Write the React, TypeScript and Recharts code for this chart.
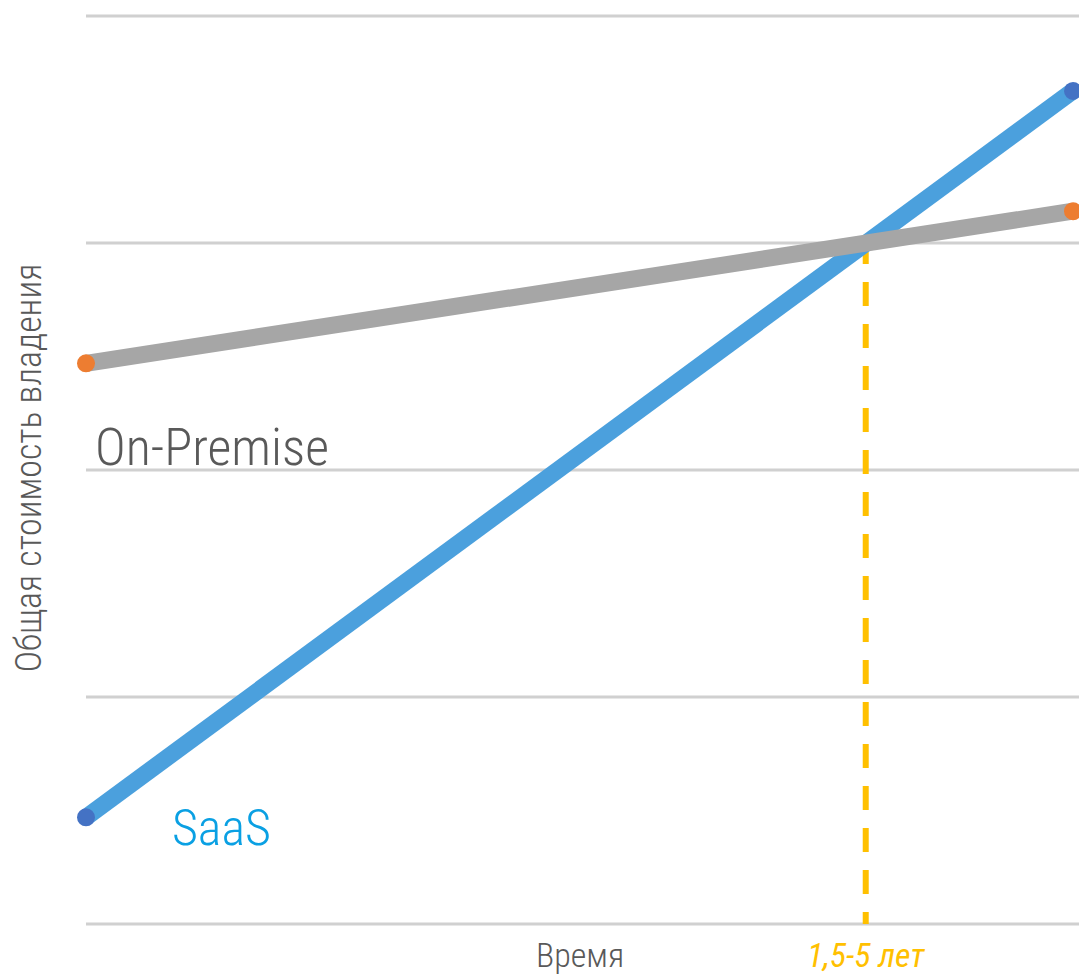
import React from "react";
import { LineChart, Line, XAxis, YAxis, CartesianGrid, ReferenceLine } from "recharts";

// time axis: start and end of the period (relative)
const timePoints = [0, 1];
const saasCost = [0.47, 3.67];
const onPremiseCost = [2.47, 3.14];
const yTicks = [0, 1, 2, 3, 4];

// break-even point
const breakEvenX = 0.79;
const breakEvenY = 3.013;

const yTitle = "Общая стоимость владения";
const xTitle = "Время";
const breakEvenLabel = "1,5-5 лет";

const data = timePoints.map((t, i) => ({
    t,
    saas: saasCost[i],
    onPremise: onPremiseCost[i],
}));

const font = "'Roboto Condensed', 'Liberation Sans Narrow', 'Arial Narrow', Roboto, sans-serif";

export default function App() {
    return (
        <div style={{ position: "absolute", left: 0, top: 0 }}>
            <LineChart
                width={1079}
                height={977}
                data={data}
                margin={{ top: 16, right: 0, bottom: 53, left: 86 }}
                style={{ fontFamily: font }}
            >
                <CartesianGrid vertical={false} stroke="#d0d0d0" strokeWidth={3} />
                <XAxis dataKey="t" type="number" domain={[0, 1]} hide padding={{ left: 0, right: 6 }} />
                <YAxis type="number" domain={[0, 4]} ticks={yTicks} hide />
                <ReferenceLine
                    segment={[
                        { x: breakEvenX, y: breakEvenY },
                        { x: breakEvenX, y: 0 },
                    ]}
                    stroke="#FFC000"
                    strokeWidth={6}
                    strokeDasharray="24 18"
                />
                <Line
                    dataKey="saas"
                    type="linear"
                    stroke="#4BA0DD"
                    strokeWidth={17}
                    dot={{ r: 9, fill: "#4472C4", stroke: "none" }}
                    activeDot={false}
                    isAnimationActive={false}
                />
                <Line
                    dataKey="onPremise"
                    type="linear"
                    stroke="#A6A6A6"
                    strokeWidth={17}
                    dot={{ r: 9, fill: "#ED7D31", stroke: "none" }}
                    activeDot={false}
                    isAnimationActive={false}
                />
                <text
                    x={41}
                    y={468}
                    transform="rotate(-90, 41, 468)"
                    textAnchor="middle"
                    fontSize={36}
                    fontWeight={300}
                    fill="#595959"
                    fontFamily={font}
                >
                    {yTitle}
                </text>
                <text x={95} y={465} fontSize={52} fontWeight={300} fill="#595959" fontFamily={font}>
                    On-Premise
                </text>
                <text x={172} y={845} fontSize={50} fontWeight={300} fill="#0AA0E3" fontFamily={font}>
                    SaaS
                </text>
                <text x={536} y={967} fontSize={34} fontWeight={300} fill="#595959" fontFamily={font}>
                    {xTitle}
                </text>
                <text x={807} y={967} fontSize={34} fill="#FFC000" fontStyle="italic" fontFamily={font}>
                    {breakEvenLabel}
                </text>
            </LineChart>
        </div>
    );
}
